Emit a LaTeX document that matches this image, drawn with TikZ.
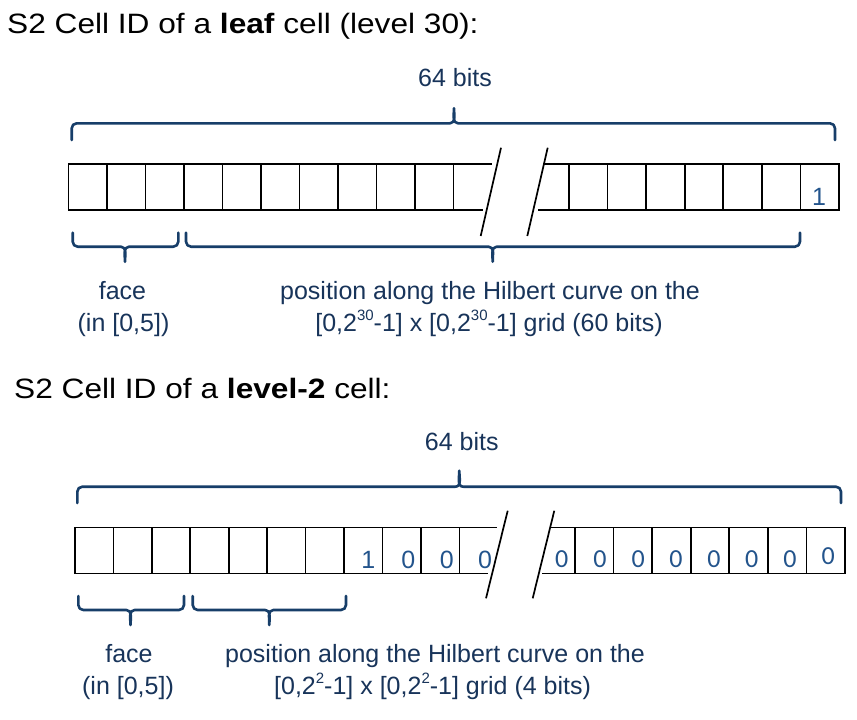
\documentclass[tikz,border=0pt]{standalone}
\usepackage{fontspec}
\setmainfont{Liberation Sans}
\newfontfamily\titlefont[FakeStretch=1.13]{Liberation Sans}
\newfontfamily\zerofont{Carlito}
\definecolor{bracecol}{RGB}{23,62,105}
\definecolor{labelcol}{RGB}{24,52,90}
\definecolor{digitcol}{RGB}{35,84,140}
\newcommand{\supsm}[1]{\raisebox{0.42em}{\fontsize{15}{15}\selectfont #1}}
\newcommand{\braceup}[6]{\draw[bracestyle] (#1,#4) -- (#1,#5+5) to[out=90,in=180] (#1+5,#5) -- (#2-4,#5) to[out=0,in=-90] (#2,#6) to[out=-90,in=180] (#2+4,#5) -- (#3-5,#5) to[out=0,in=90] (#3,#5+5) -- (#3,#4);}
\newcommand{\bracedown}[6]{\draw[bracestyle] (#1,#4) -- (#1,#5-5) to[out=-90,in=180] (#1+5,#5) -- (#2-4,#5) to[out=0,in=90] (#2,#6) to[out=90,in=180] (#2+4,#5) -- (#3-5,#5) to[out=0,in=-90] (#3,#5-5) -- (#3,#4);}
\begin{document}
\begin{tikzpicture}[x=1pt,y=-1pt,
  cell/.style={draw=black,line width=1.6pt,minimum width=#1,minimum height=46pt,inner sep=0pt,outer sep=0pt,anchor=north west},
  cell/.default=38.5pt,
  cellline/.style={draw=black,line width=1.6pt},
  slashline/.style={draw=black,line width=1.7pt},
  bracestyle/.style={draw=bracecol,line width=2.6pt,line cap=round,line join=round},
  title/.style={anchor=base west,inner sep=0pt,font=\titlefont\fontsize{28}{30}\selectfont,text=black},
  lbl/.style={anchor=base,inner sep=0pt,font=\fontsize{25}{31}\selectfont,text=labelcol},
  digit/.style={anchor=base,inner sep=0pt,font=\fontsize{25}{28}\selectfont,text=digitcol},
  zdigit/.style={anchor=base,inner sep=0pt,font=\zerofont\fontsize{26}{28}\selectfont,text=digitcol}]
\useasboundingbox (0,0) rectangle (857,720);
\fill[white] (0,0) rectangle (857,720);

% ---------- first diagram ----------
\node[title] (title1) at (7,33.5) {S2 Cell ID of a \textbf{leaf} cell (level 30):};
\node[lbl] (bits1) at (455,86.7) {64 bits};
\braceup{71.7}{454}{835}{140}{123.3}{108.3}

\foreach \i in {0,...,9} \node[cell] (t\i) at ({68.3+38.5*\i},164) {};
\foreach \i in {0,...,6} \node[cell=38.57pt] (u\i) at ({569+38.57*\i},164) {};
\draw[cellline] (t9.north east) -- ++(38.4,0);
\draw[cellline] (t9.south east) -- ++(30,0);
\draw[cellline] (u0.north west) -- ++(-25.7,0);
\draw[cellline] (u0.south west) -- ++(-30.7,0);
\coordinate (s1a) at (501,147.7); \coordinate (s1b) at (480.7,236);
\coordinate (s2a) at (547.7,147.7); \coordinate (s2b) at (527.3,236);
\draw[slashline] (s1a) -- (s1b);
\draw[slashline] (s2a) -- (s2b);
\node[digit] (d1) at (819,205) {1};

\bracedown{72.7}{125}{178.3}{232.7}{246.7}{261.7}
\bracedown{186}{492.7}{800}{232.7}{246.7}{261.7}
\node[lbl] (face1) at (122.5,299) {face};
\node[lbl] (face1b) at (123.5,331) {(in [0,5])};
\node[lbl] (pos1) at (490,299) {position along the Hilbert curve on the};
\node[lbl] (pos1b) at (489,331) {[0,2\supsm{30}-1] x [0,2\supsm{30}-1] grid (60 bits)};

% ---------- second diagram ----------
\node[title] (title2) at (14,398) {S2 Cell ID of a \textbf{level-2} cell:};
\node[lbl] (bits2) at (461.7,450.7) {64 bits};
\braceup{77.3}{459.3}{841}{503}{486.7}{470.7}

\foreach \i in {0,...,9} \node[cell=38.43pt] (b\i) at ({75+38.43*\i},527.3) {};
\foreach \i in {0,...,6} \node[cell=38.57pt] (c\i) at ({575+38.57*\i},527.3) {};
\draw[cellline] (b9.north east) -- ++(37.7,0);
\draw[cellline] (b9.south east) -- ++(29,0);
\draw[cellline] (c0.north west) -- ++(-25,0);
\draw[cellline] (c0.south west) -- ++(-33.3,0);
\coordinate (s3a) at (507.7,510.7); \coordinate (s3b) at (486,598.3);
\coordinate (s4a) at (554.3,510.7); \coordinate (s4b) at (532.7,598.3);
\draw[slashline] (s3a) -- (s3b);
\draw[slashline] (s4a) -- (s4b);

\node[digit] (e1) at (368.3,568.3) {1};
\node[digit] (e2) at (408.3,568.3) {0};
\node[digit] (e3) at (446.7,568.3) {0};
\node[digit] (e4) at (485,568.3) {0};
\node[zdigit] (z0) at (561.7,567.3) {0};
\node[zdigit] (z1) at (600,567.3) {0};
\node[zdigit] (z2) at (638.3,567.3) {0};
\node[zdigit] (z3) at (676,567.3) {0};
\node[zdigit] (z4) at (714,567.3) {0};
\node[zdigit] (z5) at (751.7,567.3) {0};
\node[zdigit] (z6) at (790,567.3) {0};
\node[zdigit] (z7) at (828.3,564.5) {0};

\bracedown{78.3}{130.5}{184}{596}{610}{625}
\bracedown{192.7}{269.3}{346}{596}{610}{625}
\node[lbl] (face2) at (129,662) {face};
\node[lbl] (face2b) at (128,694) {(in [0,5])};
\node[lbl] (pos2) at (435,662) {position along the Hilbert curve on the};
\node[lbl] (pos2b) at (432.6,694) {[0,2\supsm{2}-1] x [0,2\supsm{2}-1] grid (4 bits)};
\end{tikzpicture}
\end{document}
